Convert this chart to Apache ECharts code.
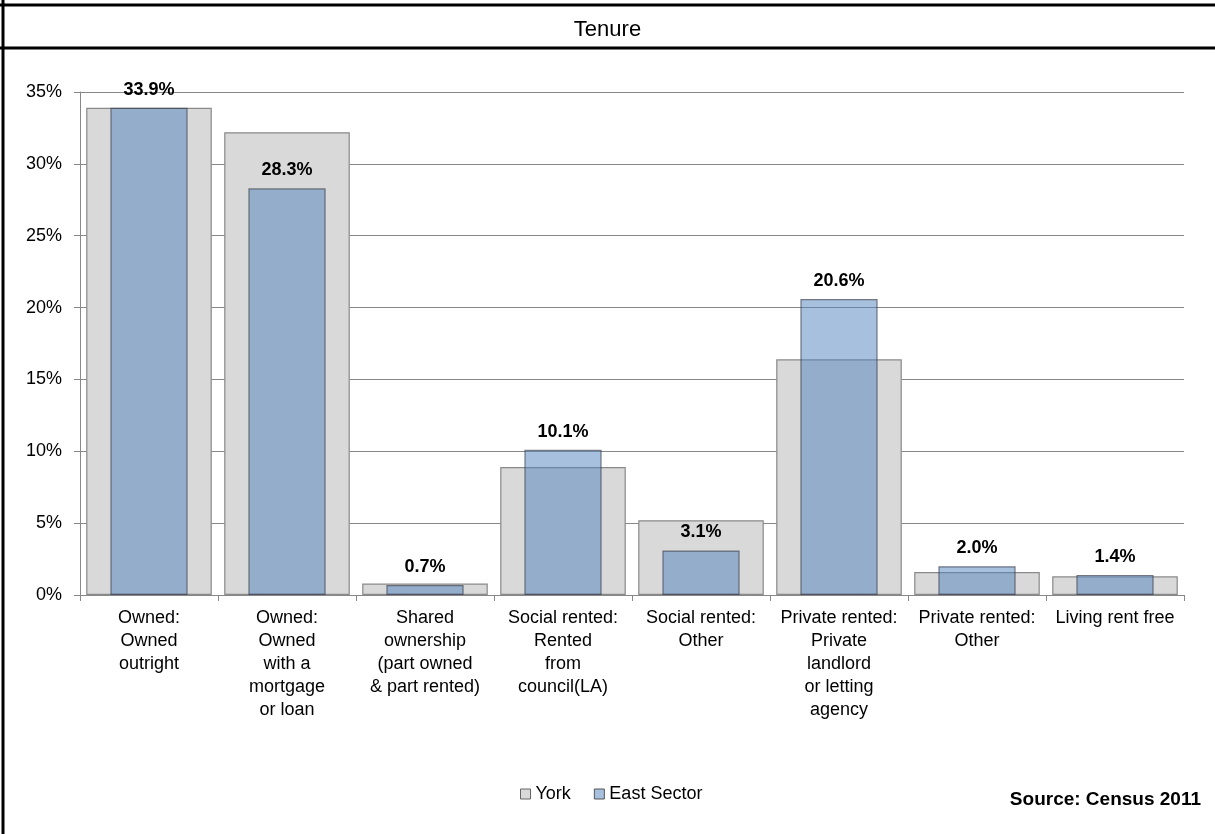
<!DOCTYPE html>
<html><head><meta charset="utf-8">
<script src="https://cdn.jsdelivr.net/npm/echarts@6/dist/echarts.min.js"></script>
<style>html,body{margin:0;padding:0;background:#fff}#c{width:1215px;height:834px}</style>
</head><body><div id="c"></div>
<script>
const categories = [
  'Owned:\nOwned\noutright',
  'Owned:\nOwned\nwith a\nmortgage\nor loan',
  'Shared\nownership\n(part owned\n& part rented)',
  'Social rented:\nRented\nfrom\ncouncil(LA)',
  'Social rented:\nOther',
  'Private rented:\nPrivate\nlandlord\nor letting\nagency',
  'Private rented:\nOther',
  'Living rent free'
];
const york = [33.9, 32.2, 0.8, 8.9, 5.2, 16.4, 1.6, 1.3];
const eastSector = [33.9, 28.3, 0.7, 10.1, 3.1, 20.6, 2.0, 1.4];
const yTicks = [0, 5, 10, 15, 20, 25, 30, 35];

const chart = echarts.init(document.getElementById('c'));
const FONT = '"Liberation Sans", Arial, sans-serif';
chart.setOption({
  animation: false,
  textStyle: { fontFamily: FONT },
  title: {
    text: 'Tenure', left: 'center', top: 14,
    textStyle: { fontFamily: FONT, fontSize: 22, fontWeight: 'normal', color: '#000' }
  },
  graphic: [
    { type: 'line', shape: { x1: 3, y1: 0, x2: 3, y2: 834 }, style: { stroke: '#000', lineWidth: 3 } },
    { type: 'line', shape: { x1: 0, y1: 5, x2: 1215, y2: 5 }, style: { stroke: '#000', lineWidth: 3 } },
    { type: 'line', shape: { x1: 0, y1: 48, x2: 1215, y2: 48 }, style: { stroke: '#000', lineWidth: 3 } },
    { type: 'text', right: 14, top: 790, style: { text: 'Source: Census 2011', font: 'bold 19px ' + FONT, fill: '#000' } }
  ],
  legend: {
    left: 520, top: 785, padding: 0, itemWidth: 10, itemHeight: 10, itemGap: 23,
    icon: 'rect',
    textStyle: { fontFamily: FONT, fontSize: 18, lineHeight: 18, color: '#000' },
    data: [
      { name: 'York', itemStyle: { color: '#d9d9d9', borderColor: '#666', borderWidth: 1 } },
      { name: 'East Sector', itemStyle: { color: '#a7c0de', borderColor: '#555', borderWidth: 1 } }
    ]
  },
  grid: { left: 80, right: 31, top: 92, bottom: 239 },
  xAxis: [
    {
      type: 'category', data: categories,
      axisLine: { lineStyle: { color: '#888' } },
      axisTick: { show: true, length: 6, lineStyle: { color: '#888' } },
      axisLabel: { interval: 0, fontFamily: FONT, fontSize: 18, color: '#000', lineHeight: 23, margin: 12 }
    },
    { type: 'category', data: categories, show: false }
  ],
  yAxis: {
    type: 'value', min: 0, max: 35, interval: 5,
    axisLine: { show: true, lineStyle: { color: '#888' } },
    axisTick: { show: true, length: 6, lineStyle: { color: '#888' } },
    splitLine: { lineStyle: { color: '#888' } },
    axisLabel: {
      fontFamily: FONT, fontSize: 18, color: '#000', margin: 18,
      formatter: v => yTicks.includes(v) ? v + '%' : ''
    }
  },
  series: [
    {
      name: 'York', type: 'bar', xAxisIndex: 0, data: york, barWidth: '91%',
      itemStyle: { color: '#d9d9d9', borderColor: '#8a8a8a', borderWidth: 1.2 },
      z: 1
    },
    {
      name: 'East Sector', type: 'bar', xAxisIndex: 1, data: eastSector, barWidth: '56%',
      itemStyle: { color: 'rgba(79,129,189,0.5)', borderColor: 'rgba(50,50,60,0.6)', borderWidth: 1.2 },
      label: {
        show: true, position: 'top', distance: 9, formatter: p => p.value.toFixed(1) + '%',
        fontFamily: FONT, fontSize: 18, fontWeight: 'bold', color: '#000'
      },
      z: 2
    }
  ]
});
</script></body></html>
